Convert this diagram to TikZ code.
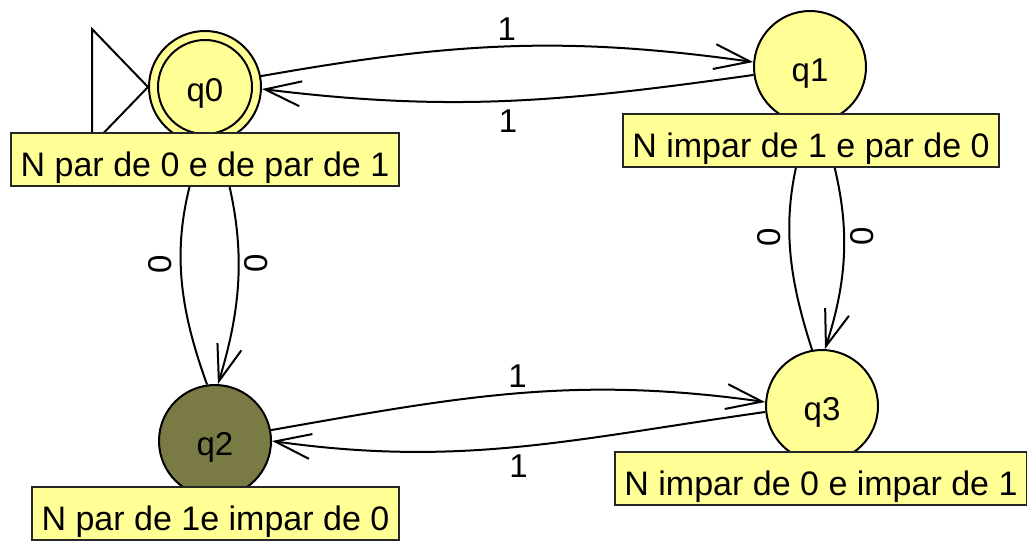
\documentclass[tikz,border=0pt]{standalone}
\usepackage{fontspec}
\setmainfont{Liberation Sans}
\usetikzlibrary{arrows.meta}
\definecolor{stateyellow}{RGB}{255,255,150}
\definecolor{stateolive}{RGB}{122,122,69}

\begin{document}
\begin{tikzpicture}[x=1pt, y=1pt,
	states/.style={draw, circle, line width=2pt, fill=stateyellow, minimum size=112pt, inner sep=0pt, text height=28pt, text depth=0pt, font=\fontsize{33}{40}\selectfont},
	notes/.style={draw=black!85, line width=2pt, fill=stateyellow, inner xsep=9.5pt, inner ysep=0pt, minimum height=53pt, text height=33pt, text depth=0pt, font=\fontsize{34}{40}\selectfont},
	edges/.style={line width=2pt, -{Straight Barb[length=36pt, width=25pt, line width=2pt]}},
	syms/.style={inner sep=5pt, font=\fontsize{33}{40}\selectfont}]
	\useasboundingbox (0,0) rectangle (1027,-542);
	\node [states] (q0) at (205,-87){q0};
	\node [states] (q1) at (810,-67){q1};
	\node [states, fill=stateolive] (q2) at (215,-441){q2};
	\node [states] (q3) at (822,-406){q3};
	\draw [line width=2pt] (q0.center) circle (47);
	\draw [line width=2pt] (q0.west) -- ++(-56,58) -- ++(0,-116) -- cycle;
	% transitions
	\draw [edges] (q0.11) to[out=10, in=172] node[syms, above] (t01) {1} (q1.175);
	\draw [edges] (q1.188) to[out=188, in=-7] node[syms, below, outer sep=4pt] (t10) {1} (q0.-2);
	\draw [edges] (q2.11) to[out=10, in=172] node[syms, above] (t23) {1} (q3.176);
	\draw [edges] (q3.186) to[out=188, in=-8] node[syms, below, outer sep=3pt] (t32) {1} (q2.0);
	\draw [edges] (q0.-77) to[out=-73, in=73] node[syms, rotate=90, anchor=north] (t02) {0} (q2.87);
	\draw [edges] (q2.98) to[out=110, in=-110] node[syms, rotate=90, anchor=south, outer sep=4pt] (t20) {0} (q0.-92);
	\draw [edges] (q1.-78) to[out=-72, in=72] node[syms, rotate=90, anchor=north] (t13) {0} (q3.87);
	\draw [edges] (q3.100) to[out=108, in=-108] node[syms, rotate=90, anchor=south, outer sep=4pt] (t31) {0} (q1.-92);
	% state notes
	\node [notes] (n0) at (205,-159.5){N par de 0 e de par de 1};
	\node [notes] (n1) at (811,-140.5){N impar de 1 e par de 0};
	\node [notes] (n2) at (215.5,-513.5){N par de 1e impar de 0};
	\node [notes] (n3) at (821,-478.5){N impar de 0 e impar de 1};
\end{tikzpicture}
\end{document}
